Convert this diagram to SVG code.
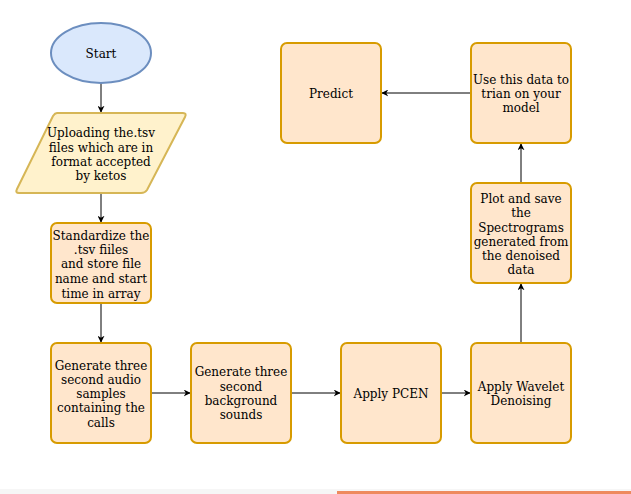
<svg xmlns="http://www.w3.org/2000/svg" width="631" height="494" viewBox="0 0 631 494">
<style>
text{font-family:"DejaVu Serif",serif;font-size:12px;fill:#000;text-anchor:middle}
.box{fill:#ffe6cc;stroke:#d79b00;stroke-width:2}
.edge{stroke:#000;stroke-width:1;fill:none}
</style>
<defs>
<marker id="arr" viewBox="0 0 10 10" refX="9" refY="5" markerWidth="7" markerHeight="7" markerUnits="userSpaceOnUse" orient="auto">
<path d="M0,0 L10,5 L0,10 L3,5 Z" fill="#000"/>
</marker>
</defs>
<rect x="0" y="0" width="631" height="494" fill="#fff"/>
<rect x="0" y="489" width="631" height="5" fill="#f6f6f6"/>
<rect x="337" y="491" width="294" height="3" fill="#ee8a5e"/>
<g id="connectors">
<line class="edge" x1="101" y1="83" x2="101" y2="112" marker-end="url(#arr)"/>
<line class="edge" x1="101" y1="193" x2="101" y2="222" marker-end="url(#arr)"/>
<line class="edge" x1="101" y1="303" x2="101" y2="342" marker-end="url(#arr)"/>
<line class="edge" x1="151" y1="393" x2="190" y2="393" marker-end="url(#arr)"/>
<line class="edge" x1="291" y1="393" x2="340" y2="393" marker-end="url(#arr)"/>
<line class="edge" x1="441" y1="393" x2="470" y2="393" marker-end="url(#arr)"/>
<line class="edge" x1="521" y1="343" x2="521" y2="284" marker-end="url(#arr)"/>
<line class="edge" x1="521" y1="183" x2="521" y2="144" marker-end="url(#arr)"/>
<line class="edge" x1="471" y1="93" x2="382" y2="93" marker-end="url(#arr)"/>
</g>
<g id="start">
<ellipse cx="101" cy="53" rx="50" ry="30" fill="#dae8fc" stroke="#6c8ebf" stroke-width="2"/>
<text x="101" y="58">Start</text>
</g>
<g id="upload">
<path d="M57,113 L183,113 Q187,113 185,117 L147,190 Q145,193 141,193 L19,193 Q15,193 17,189 L53,116 Q55,113 57,113 Z" fill="#fff2cc" stroke="#d6b656" stroke-width="2"/>
<text x="101" y="137">Uploading the.tsv</text>
<text x="101" y="152">files which are in</text>
<text x="101" y="166">format accepted</text>
<text x="101" y="180">by ketos</text>
</g>
<g id="standardize">
<rect class="box" x="51" y="223" width="100" height="80" rx="6"/>
<text x="101" y="240">Standardize the</text>
<text x="101" y="254">.tsv fiiles</text>
<text x="101" y="268">and store file</text>
<text x="101" y="283">name and start</text>
<text x="101" y="298">time in array</text>
</g>
<g id="gen-calls">
<rect class="box" x="51" y="343" width="100" height="100" rx="6"/>
<text x="101" y="370">Generate three</text>
<text x="101" y="384">second audio</text>
<text x="101" y="398">samples</text>
<text x="101" y="412">containing the</text>
<text x="101" y="427">calls</text>
</g>
<g id="gen-bg">
<rect class="box" x="191" y="343" width="100" height="100" rx="6"/>
<text x="241" y="376">Generate three</text>
<text x="241" y="391">second</text>
<text x="241" y="405">background</text>
<text x="241" y="419">sounds</text>
</g>
<g id="pcen">
<rect class="box" x="341" y="343" width="100" height="100" rx="6"/>
<text x="391" y="398">Apply PCEN</text>
</g>
<g id="wavelet">
<rect class="box" x="471" y="343" width="100" height="100" rx="6"/>
<text x="521" y="391">Apply Wavelet</text>
<text x="521" y="405">Denoising</text>
</g>
<g id="plot">
<rect class="box" x="471" y="183" width="100" height="100" rx="6"/>
<text x="521" y="203">Plot and save</text>
<text x="521" y="217">the</text>
<text x="521" y="232">Spectrograms</text>
<text x="521" y="246">generated from</text>
<text x="521" y="260">the denoised</text>
<text x="521" y="274">data</text>
</g>
<g id="train">
<rect class="box" x="471" y="43" width="100" height="100" rx="6"/>
<text x="521" y="84">Use this data to</text>
<text x="521" y="98">trian on your</text>
<text x="521" y="112">model</text>
</g>
<g id="predict">
<rect class="box" x="281" y="43" width="100" height="100" rx="6"/>
<text x="331" y="98">Predict</text>
</g>
</svg>
